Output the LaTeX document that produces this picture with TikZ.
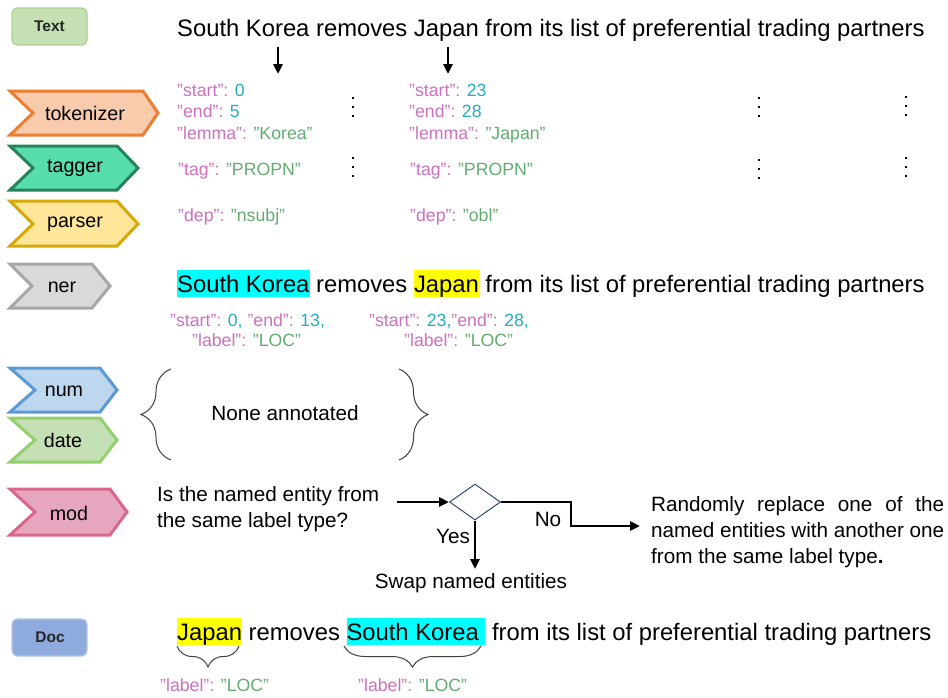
\documentclass[tikz,border=0pt]{standalone}
\usepackage{fontspec}
\setmainfont{Liberation Sans}
\usetikzlibrary{arrows.meta,shapes.geometric,decorations.pathreplacing}
\definecolor{jkey}{RGB}{204,112,190}
\definecolor{jnum}{RGB}{40,172,190}
\definecolor{jstr}{RGB}{98,172,112}
\definecolor{tokF}{RGB}{248,203,173}\definecolor{tokD}{RGB}{237,125,49}
\definecolor{tagF}{RGB}{88,222,172}\definecolor{tagD}{RGB}{38,132,92}
\definecolor{parF}{RGB}{255,230,153}\definecolor{parD}{RGB}{214,168,8}
\definecolor{nerF}{RGB}{217,217,217}\definecolor{nerD}{RGB}{166,166,166}
\definecolor{numF}{RGB}{189,215,238}\definecolor{numD}{RGB}{91,155,213}
\definecolor{datF}{RGB}{197,224,180}\definecolor{datD}{RGB}{147,207,108}
\definecolor{modF}{RGB}{230,166,191}\definecolor{modD}{RGB}{216,102,142}
\definecolor{txtF}{RGB}{197,224,180}\definecolor{txtD}{RGB}{169,209,142}
\definecolor{docF}{RGB}{143,170,220}\definecolor{docD}{RGB}{180,199,231}
\definecolor{diaD}{RGB}{47,74,110}
\definecolor{hlcyan}{RGB}{0,255,255}
\definecolor{hlyellow}{RGB}{255,255,0}
\newcommand\jk[1]{\textcolor{jkey}{#1}}
\newcommand\jn[1]{\textcolor{jnum}{#1}}
\newcommand\js[1]{\textcolor{jstr}{#1}}
\newcommand\hlword[2]{{\setlength\fboxsep{0pt}\colorbox{#1}{\rule[-5pt]{0pt}{27pt}#2}}}
\tikzset{
  sent/.style={anchor=base west, inner sep=0pt, font=\fontsize{23.8}{28}\selectfont},
  json/.style={anchor=base west, inner sep=0pt, font=\fontsize{17.7}{21}\selectfont},
  body/.style={inner sep=0pt, font=\fontsize{20.7}{25}\selectfont},
  chevlabel/.style={inner sep=0pt, font=\fontsize{19.7}{24}\selectfont},
  chev/.style={line width=3pt, line join=miter},
  tagbox/.style={rounded corners=5pt, line width=1.2pt, inner sep=0pt, font=\fontsize{15.5}{18}\selectfont\bfseries, text=black!85},
  arr/.style={line width=2.6pt, -{Triangle[length=10pt,width=9pt]}},
  bracestyle/.style={decorate, line width=1pt, black!75},
  dot/.style={fill=black},
}
\begin{document}
\begin{tikzpicture}[x=1pt,y=-1pt]
\useasboundingbox (0,0) rectangle (948,697);
% ---------- Text box ----------
\draw[tagbox, fill=txtF, draw=txtD] (12,8) rectangle (87,45);
\node[tagbox, draw=none] (textlbl) at (49.5,26.5) {Text};
% ---------- top sentence ----------
\node[sent] (s1) at (177,36) {South Korea removes Japan from its list of preferential trading partners};
\coordinate (a1s) at (278,47); \coordinate (a1e) at (278,74);
\coordinate (a2s) at (448,47); \coordinate (a2e) at (448,74);
\draw[arr] (a1s) -- (a1e);
\draw[arr] (a2s) -- (a2e);
% ---------- chevrons ----------
\draw[chev, fill=tokF, draw=tokD] (10,91)--(143,91)--(158,113)--(143,135)--(10,135)--(33,113)--cycle;
\node[chevlabel] (tok) at (85,113) {tokenizer};
\draw[chev, fill=tagF, draw=tagD] (10,146)--(117,146)--(138,168)--(117,190)--(10,190)--(33,168)--cycle;
\node[chevlabel] (tag) at (75,168) {tagger};
\draw[chev, fill=parF, draw=parD] (10,201)--(117,201)--(138,224)--(117,246)--(10,246)--(33,224)--cycle;
\node[chevlabel] (par) at (75,224) {parser};
\draw[chev, fill=nerF, draw=nerD] (10,264)--(92,264)--(110,286)--(92,308)--(10,308)--(32,286)--cycle;
\node[chevlabel] (ner) at (62,287) {ner};
\draw[chev, fill=numF, draw=numD] (10,368)--(100,368)--(117,390)--(100,412)--(10,412)--(35,390)--cycle;
\node[chevlabel] (num) at (64,391) {num};
\draw[chev, fill=datF, draw=datD] (10,418)--(100,418)--(117,440)--(100,462)--(10,462)--(35,440)--cycle;
\node[chevlabel] (dat) at (63,440) {date};
\draw[chev, fill=modF, draw=modD] (10,489)--(110,489)--(127,512)--(110,535)--(10,535)--(35,512)--cycle;
\node[chevlabel] (mod) at (69,513) {mod};
% ---------- token attributes ----------
\node[json] (k1) at (177,96) {\jk{"start": }\jn{0}};
\node[json] (k2) at (177,117) {\jk{"end": }\jn{5}};
\node[json] (k3) at (177,139) {\jk{"lemma": }\js{"Korea"}};
\node[json] (j1) at (409,96) {\jk{"start": }\jn{23}};
\node[json] (j2) at (409,117) {\jk{"end": }\jn{28}};
\node[json] (j3) at (409,139) {\jk{"lemma": }\js{”Japan"}};
\node[json] (kt) at (178,175) {\jk{"tag": }\js{"PROPN"}};
\node[json] (jt) at (410,175) {\jk{"tag": }\js{"PROPN"}};
\node[json] (kd) at (178,221) {\jk{"dep": }\js{"nsubj"}};
\node[json] (jd) at (410,221) {\jk{"dep": }\js{”obl"}};
% vertical dots
\foreach \x/\y in {353/107, 353/167, 759/107, 759/169, 906/106, 906/167}{
  \foreach \d in {-9,0,9}{ \fill[dot] (\x-1.3,\y+\d-1.3) rectangle (\x+1.3,\y+\d+1.3); }
}
% ---------- ner sentence ----------
\node[sent] (s2) at (177,292) {\hlword{hlcyan}{South Korea} removes \hlword{hlyellow}{Japan} from its list of preferential trading partners};
\node[json] (n1) at (170,326) {\jk{"start": }\jn{0,} \jk{"end": }\jn{13,}};
\node[json] (n2) at (192,346) {\jk{"label": }\js{"LOC"}};
\node[json] (n3) at (369,326) {\jk{"start": }\jn{23,}\jk{"end": }\jn{28,}};
\node[json] (n4) at (404,346) {\jk{"label": }\js{"LOC"}};
% ---------- None annotated ----------
\node[body] (none) at (285,413) {None annotated};
\coordinate (lb1) at (171,460); \coordinate (lb2) at (171,369);
\coordinate (rb1) at (399,369); \coordinate (rb2) at (399,460);
\draw[bracestyle, decoration={brace, amplitude=30pt, aspect=0.5}] (lb1) -- (lb2);
\draw[bracestyle, decoration={brace, amplitude=29pt, aspect=0.5}] (rb1) -- (rb2);
% ---------- mod decision ----------
\node[body, anchor=north west, align=left] (q) at (157,486) {Is the named entity from\\[1pt]the same label type?};
\node[draw=diaD, line width=1pt, shape=diamond, minimum width=51pt, minimum height=36pt, inner sep=0pt] (dia) at (475,502) {};
\coordinate (qout) at (397,502);
\draw[arr] (qout) -- (dia.west);
\coordinate (c1) at (571,502);
\coordinate (c2) at (571,526);
\coordinate (c3) at (640,526);
\draw[arr] (dia.east) -- (c1) -- (c2) -- (c3);
\node[body] (no) at (548,519) {No};
\node[body] (yes) at (453,536) {Yes};
\node[body] (swap) at (471,583) {Swap named entities};
\coordinate (yesend) at (475,569);
\draw[arr] (dia.south) -- (yesend);
\node[body, anchor=north west, align=left] (rnd) at (651,496) {%
  \makebox[293pt][s]{Randomly replace one of the}\\[1pt]
  \makebox[293pt][s]{named entities with another one}\\[1pt]
  from the same label type\textbf{.}};
% ---------- Doc ----------
\draw[tagbox, fill=docF, draw=docD] (12,619) rectangle (87,656);
\node[tagbox, draw=none] (doclbl) at (50,637.5) {Doc};
\node[sent] (s3) at (177,640) {\hlword{hlyellow}{Japan} removes \hlword{hlcyan}{South Korea\ }\ from its list of preferential trading partners};
\coordinate (ub1) at (239,646); \coordinate (ub2) at (177,646);
\coordinate (ub3) at (481,646); \coordinate (ub4) at (344,646);
\draw[bracestyle, decoration={brace, amplitude=21pt, aspect=0.5}] (ub1) -- (ub2);
\draw[bracestyle, decoration={brace, amplitude=21pt, aspect=0.5}] (ub3) -- (ub4);
\node[json] (d1) at (160,691) {\jk{"label": }\js{"LOC"}};
\node[json] (d2) at (358,691) {\jk{"label": }\js{"LOC"}};
\end{tikzpicture}
\end{document}
